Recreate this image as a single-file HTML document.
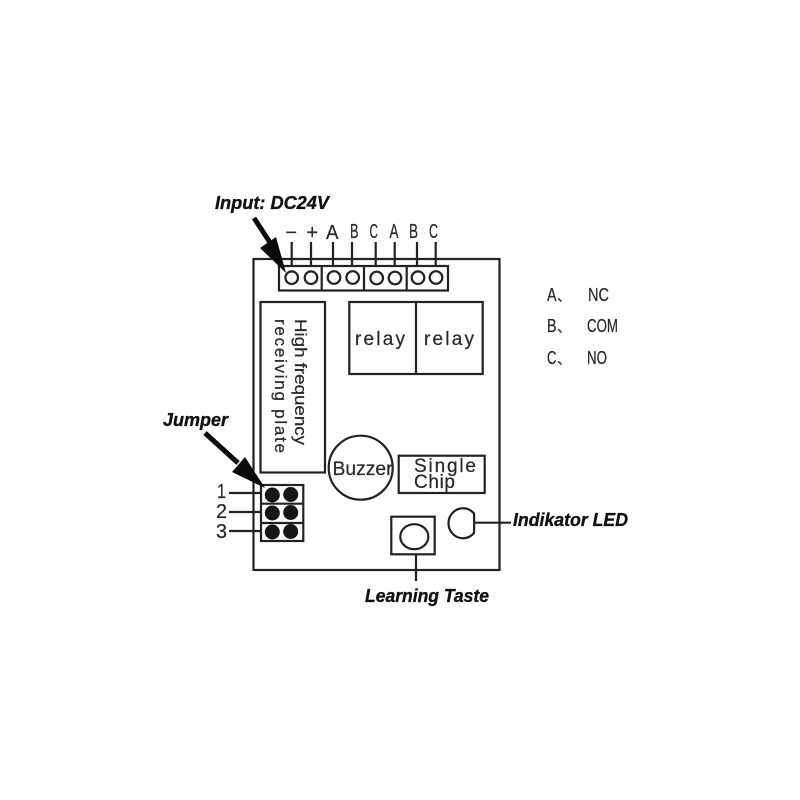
<!DOCTYPE html>
<html>
<head>
<meta charset="utf-8">
<style>
html,body{margin:0;padding:0;background:#fff;width:800px;height:800px;overflow:hidden}
svg{display:block;filter:blur(0.35px)}
.s{fill:none;stroke:#222;stroke-width:2.2}
.t{font-family:"Liberation Sans","Noto Sans CJK SC",sans-serif;fill:#2a2a2a;stroke:#2a2a2a;stroke-width:0.25;font-size:19px}
.b{font-family:"Liberation Sans",sans-serif;font-weight:bold;font-style:italic;fill:#111;stroke:#111;stroke-width:0.35;font-size:18px}
</style>
</head>
<body>
<svg width="800" height="800" viewBox="0 0 800 800" xmlns="http://www.w3.org/2000/svg">
<rect width="800" height="800" fill="#fff"/>

<!-- board -->
<rect class="s" x="253.5" y="259" width="246" height="311"/>

<!-- terminal block -->
<rect x="279" y="266" width="169" height="24.5" fill="#fff" stroke="#222" stroke-width="2.2"/>
<path class="s" d="M321.7 266V290M364 266V290M406.7 266V290"/>
<g class="s">
<circle cx="291.7" cy="277.7" r="6.3"/>
<circle cx="311" cy="277.7" r="6.3"/>
<circle cx="334" cy="277.5" r="6.3"/>
<circle cx="352.7" cy="277.5" r="6.3"/>
<circle cx="376.7" cy="278" r="6.3"/>
<circle cx="395" cy="278" r="6.3"/>
<circle cx="418" cy="277.7" r="6.3"/>
<circle cx="436" cy="277.5" r="6.3"/>
</g>
<path class="s" d="M291.7 242V266M311 242V266M333 242V266M352 242V266M375.7 242V266M394.7 242V266M417 242V266M435.7 242V266"/>

<!-- terminal labels -->
<text class="t" x="285.5" y="239" style="font-size:20px" textLength="11.5" lengthAdjust="spacingAndGlyphs">−</text>
<text class="t" x="306.5" y="239" style="font-size:20px" textLength="11.5" lengthAdjust="spacingAndGlyphs">+</text>
<text class="t" x="326" y="239" style="font-size:20px" textLength="12.5" lengthAdjust="spacingAndGlyphs">A</text>
<text class="t" x="350" y="238" style="font-size:20px" textLength="8.5" lengthAdjust="spacingAndGlyphs">B</text>
<text class="t" x="369.5" y="238" style="font-size:20px" textLength="8.5" lengthAdjust="spacingAndGlyphs">C</text>
<text class="t" x="389.5" y="238" style="font-size:20px" textLength="9" lengthAdjust="spacingAndGlyphs">A</text>
<text class="t" x="409" y="238" style="font-size:20px" textLength="9" lengthAdjust="spacingAndGlyphs">B</text>
<text class="t" x="429" y="238" style="font-size:20px" textLength="9" lengthAdjust="spacingAndGlyphs">C</text>

<!-- input arrow -->
<path d="M254 218L271 244" stroke="#0a0a0a" stroke-width="5" fill="none"/>
<polygon points="286,273 260,248 276,237" fill="#0a0a0a"/>
<text class="b" x="215" y="209" textLength="114" lengthAdjust="spacingAndGlyphs">Input: DC24V</text>

<!-- high frequency plate -->
<rect class="s" x="260.5" y="302" width="64.5" height="170.5"/>
<text class="t" transform="translate(295 319) rotate(90)" style="font-size:17px" textLength="126" lengthAdjust="spacingAndGlyphs">High frequency</text>
<text class="t" transform="translate(275 319) rotate(90)" style="font-size:17px" textLength="134" lengthAdjust="spacing">receiving plate</text>

<!-- relays -->
<rect class="s" x="349.3" y="302" width="133.4" height="72"/>
<path class="s" d="M416 302V374"/>
<text class="t" x="355" y="345" textLength="50" lengthAdjust="spacing">relay</text>
<text class="t" x="424" y="345" textLength="50" lengthAdjust="spacing">relay</text>

<!-- buzzer -->
<circle class="s" cx="360.7" cy="467.7" r="32"/>
<text class="t" x="332.5" y="475" textLength="60" lengthAdjust="spacingAndGlyphs">Buzzer</text>

<!-- single chip -->
<rect class="s" x="398.7" y="455.7" width="86" height="37.3"/>
<text class="t" x="414" y="472" textLength="62" lengthAdjust="spacing">Single</text>
<text class="t" x="414" y="488" textLength="41" lengthAdjust="spacing">Chip</text>

<!-- button -->
<rect class="s" x="391.3" y="516.7" width="43.4" height="37.6"/>
<ellipse class="s" cx="414.3" cy="536.7" rx="14" ry="12.5"/>
<path class="s" d="M416 554V581"/>
<text class="b" x="365" y="602" textLength="124" lengthAdjust="spacingAndGlyphs">Learning Taste</text>

<!-- LED -->
<path class="s" d="M474 513.5A14.5 15 0 1 0 474 533Q474.5 523 474 513.5Z"/>
<path class="s" d="M474 522.7H511"/>
<text class="b" x="513" y="526" textLength="115" lengthAdjust="spacingAndGlyphs">Indikator LED</text>

<!-- jumper -->
<rect class="s" x="261" y="485" width="42.3" height="56"/>
<path class="s" d="M261 503.7H303.3M261 523H303.3"/>
<g fill="#151515">
<circle cx="272.3" cy="495" r="7.5"/>
<circle cx="290.7" cy="494.5" r="7.5"/>
<circle cx="272.3" cy="513" r="7.5"/>
<circle cx="290.7" cy="512.5" r="7.5"/>
<circle cx="272.3" cy="532" r="7.5"/>
<circle cx="290.7" cy="531.5" r="7.5"/>
</g>
<path class="s" d="M229 493H261M229 512H261M229 531H261"/>
<text class="t" x="217" y="498" style="font-size:20px" textLength="9" lengthAdjust="spacingAndGlyphs">1</text>
<text class="t" x="216" y="518" style="font-size:20px" textLength="11" lengthAdjust="spacingAndGlyphs">2</text>
<text class="t" x="216" y="538" style="font-size:20px" textLength="11" lengthAdjust="spacingAndGlyphs">3</text>

<!-- jumper arrow -->
<path d="M205 433L238 463" stroke="#0a0a0a" stroke-width="5" fill="none"/>
<polygon points="265,488 232,472 245,457" fill="#0a0a0a"/>
<text class="b" x="163" y="426" textLength="65" lengthAdjust="spacingAndGlyphs">Jumper</text>

<!-- legend -->
<text class="t" x="547" y="301" style="font-size:18px" textLength="9.5" lengthAdjust="spacingAndGlyphs">A</text>
<text class="t" x="557" y="301" style="font-size:14px">、</text>
<text class="t" x="588" y="301" style="font-size:18px" textLength="21" lengthAdjust="spacingAndGlyphs">NC</text>
<text class="t" x="547" y="332" style="font-size:18px" textLength="9.5" lengthAdjust="spacingAndGlyphs">B</text>
<text class="t" x="557" y="332" style="font-size:14px">、</text>
<text class="t" x="587" y="332" style="font-size:18px" textLength="31" lengthAdjust="spacingAndGlyphs">COM</text>
<text class="t" x="547" y="364" style="font-size:18px" textLength="9.5" lengthAdjust="spacingAndGlyphs">C</text>
<text class="t" x="557" y="364" style="font-size:14px">、</text>
<text class="t" x="587" y="364" style="font-size:18px" textLength="20" lengthAdjust="spacingAndGlyphs">NO</text>
</svg>
</body>
</html>
